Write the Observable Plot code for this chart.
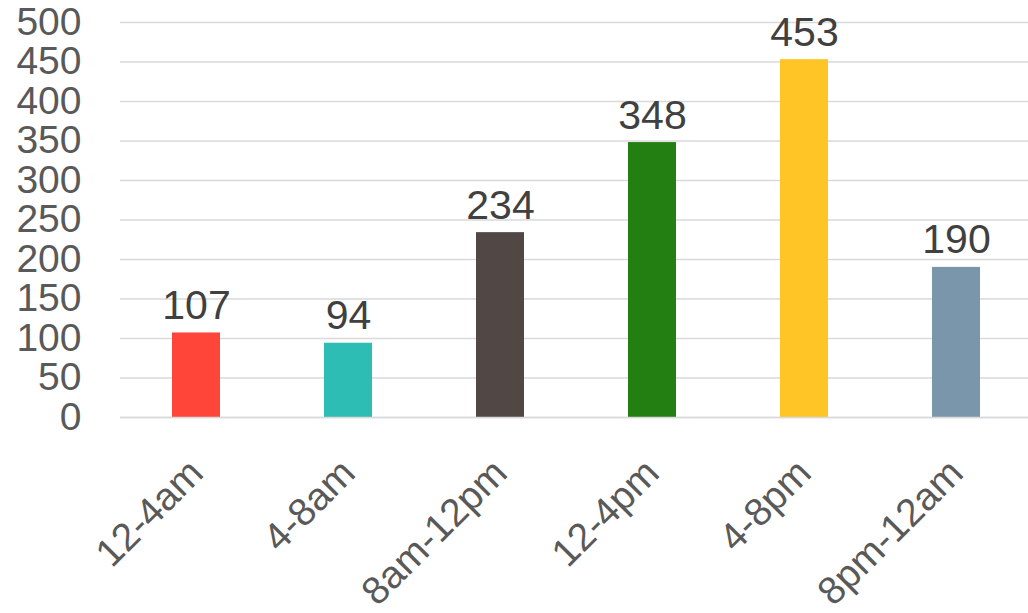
<!DOCTYPE html>
<html><head><meta charset="utf-8">
<script src="https://cdn.jsdelivr.net/npm/d3@7"></script>
<script src="https://cdn.jsdelivr.net/npm/@observablehq/plot@0.6"></script>
<style>body{margin:0;background:#fff;font-family:"Liberation Sans",Arial,sans-serif;}</style>
</head><body><div id="chart"></div>
<script>
const categories = ["12-4am","4-8am","8am-12pm","12-4pm","4-8pm","8pm-12am"];
const values = [107, 94, 234, 348, 453, 190];
const colors = ["#FF4539","#2EBDB5","#514745","#237F11","#FFC425","#7A96AB"];
const yTicks = [0,50,100,150,200,250,300,350,400,450,500];
const data = categories.map((c,i)=>({cat:c, value:values[i], color:colors[i]}));
const chart = Plot.plot({
  width: 1028, height: 613,
  marginLeft: 120, marginRight: -4, marginTop: 22, marginBottom: 196,
  style: {fontFamily: '"Liberation Sans", Arial, sans-serif', fontSize: "39px", color: "#595959", background: "#fff"},
  x: {domain: categories, paddingInner: 0.685, paddingOuter: 0.3425, label: null},
  y: {domain: [0,500], label: null},
  marks: [
    Plot.gridY(yTicks, {stroke: "#D9D9D9", strokeOpacity: 1, strokeWidth: 1.5}),
    Plot.axisY(yTicks, {tickSize: 0, tickPadding: 39, fontSize: 39, fill: "#595959", label: null}),
    Plot.barY(data, {x: "cat", y: "value", fill: "color"}),
    Plot.ruleY([0], {stroke: "#D9D9D9", strokeWidth: 1.5}),
    Plot.text(data, {x: "cat", y: "value", text: d => String(d.value), lineAnchor: "bottom", dy: -14, fontSize: 41, fill: "#404040"}),
    Plot.axisX({tickSize: 0, tickRotate: -45, tickPadding: 12, fontSize: 39, fill: "#595959", label: null, dx: 0, dy: 37})
  ]
});
document.getElementById("chart").append(chart);
</script></body></html>
